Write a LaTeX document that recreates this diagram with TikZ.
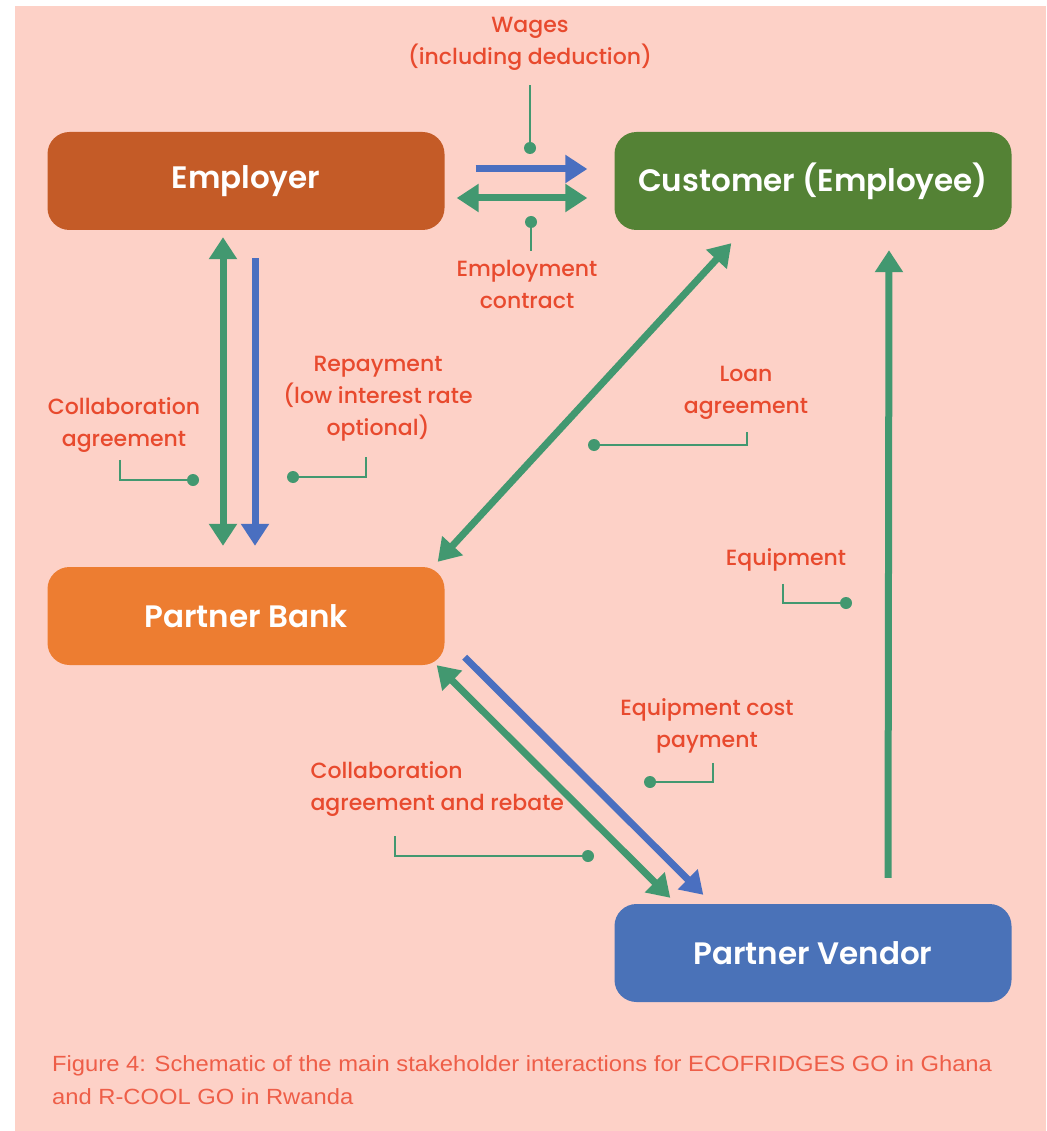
\documentclass[tikz,border=0pt]{standalone}
\usepackage{fontspec}
\usepackage{tikz}
\usetikzlibrary{arrows.meta}
\setmainfont{Poppins Medium}
\newfontfamily\boxfont{Poppins SemiBold}
\newfontfamily\capfont[FakeStretch=1.08]{Liberation Sans}
\definecolor{bgpink}{HTML}{FDD1C7}
\definecolor{employercol}{HTML}{C45B27}
\definecolor{customercol}{HTML}{548235}
\definecolor{bankcol}{HTML}{ED7D31}
\definecolor{vendorcol}{HTML}{4A72B8}
\definecolor{flowgreen}{HTML}{429870}
\definecolor{flowblue}{HTML}{4A6FC0}
\definecolor{textred}{HTML}{E84A2E}
\definecolor{captionred}{HTML}{EE5E48}
\tikzstyle{stakeholder} = [rectangle, rounded corners=22pt, minimum width=397pt, minimum height=98pt, text centered, text=white, font=\boxfont\fontsize{31}{36}\selectfont]
\tikzstyle{employerbox} = [stakeholder, fill=employercol]
\tikzstyle{customerbox} = [stakeholder, fill=customercol]
\tikzstyle{bankbox} = [stakeholder, fill=bankcol]
\tikzstyle{vendorbox} = [stakeholder, fill=vendorcol]
\tikzstyle{flowtext} = [text=textred, align=center, font=\fontsize{22}{32}\selectfont]
\tikzstyle{leader} = [draw=flowgreen, line width=2.5pt]
\tikzstyle{leaderdot} = [fill=flowgreen]
\tikzstyle{greenflow} = [draw=flowgreen, line width=7pt, ->, >={Triangle[length=22pt,width=27pt]}]
\tikzstyle{blueflow} = [draw=flowblue, line width=7pt, ->, >={Triangle[length=22pt,width=27pt]}]

\begin{document}
\begin{tikzpicture}[x=1pt, y=-1pt]
\useasboundingbox (0,0) rectangle (1046,1131);
\fill[bgpink] (15,6) rectangle (1046,1131);

\node (employer) [employerbox] at (246,181) {Employer};
\node (customer) [customerbox, right of=employer, node distance=567pt] {Customer (Employee)};
\node (bank) [bankbox, below of=employer, node distance=435pt] {Partner Bank};
\node (vendor) [vendorbox, below of=customer, node distance=772pt] {Partner Vendor};

\draw [blueflow] ([xshift=31pt,yshift=12pt]employer.east) -- ([xshift=-27pt,yshift=12pt]customer.west);
\draw [greenflow, <->] ([xshift=12pt,yshift=-17pt]employer.east) -- ([xshift=-27pt,yshift=-17pt]customer.west);
\draw [greenflow, <->] ([xshift=-23pt,yshift=-7pt]employer.south) -- ([xshift=-23pt,yshift=21pt]bank.north);
\draw [blueflow] ([xshift=9pt,yshift=-28pt]employer.south) -- ([xshift=9pt,yshift=21pt]bank.north);
\draw [greenflow, <->] ([shift={(117,13)}]customer.south west) -- ([shift={(-7,-5)}]bank.north east);
\draw [greenflow] ([xshift=75pt,yshift=26pt]vendor.north) -- ([xshift=76pt,yshift=-20pt]customer.south);
\draw [greenflow, <->] ([shift={(-8,0)}]bank.south east) -- ([shift={(56,-6)}]vendor.north west);
\draw [blueflow] ([shift={(20,-8)}]bank.south east) -- ([shift={(89,-9)}]vendor.north west);

\node (wages) [flowtext] at (530,44) {Wages\\(including deduction)};
\coordinate (wagesdot) at (530,148);
\draw [leader] (wagesdot) -- ([yshift=-11pt]wages.south);
\fill [leaderdot] (wagesdot) circle (6pt);

\node (employment) [flowtext] at (527,284) {Employment\\contract};
\coordinate (employmentdot) at (531,222);
\draw [leader] (employmentdot) -- ([xshift=4pt,yshift=5pt]employment.north);
\fill [leaderdot] (employmentdot) circle (6pt);

\node (collabemp) [flowtext] at (124,425) {Collaboration\\agreement};
\coordinate (collabempdot) at (193,480);
\draw [leader] ([xshift=-4pt,yshift=-4pt]collabemp.south) |- (collabempdot);
\fill [leaderdot] (collabempdot) circle (6pt);

\node (repay) [flowtext] at (378,399) {Repayment\\(low interest rate\\optional)};
\coordinate (repaydot) at (293,477);
\draw [leader] ([xshift=-12pt,yshift=-12pt]repay.south) |- (repaydot);
\fill [leaderdot] (repaydot) circle (6pt);

\node (loan) [flowtext] at (746,393) {Loan\\agreement};
\coordinate (loandot) at (594,445);
\draw [leader] ([xshift=1pt,yshift=-9pt]loan.south) |- (loandot);
\fill [leaderdot] (loandot) circle (6pt);

\node (equip) [flowtext] at (786,560) {Equipment};
\coordinate (equipdot) at (846,603);
\draw [leader] ([xshift=-3pt,yshift=-9pt]equip.south) |- (equipdot);
\fill [leaderdot] (equipdot) circle (6pt);

\node (eqcost) [flowtext] at (707,726) {Equipment cost\\payment};
\coordinate (eqcostdot) at (650,782);
\draw [leader] ([xshift=6pt,yshift=-6pt]eqcost.south) |- (eqcostdot);
\fill [leaderdot] (eqcostdot) circle (6pt);

\node (collabvend) [flowtext, anchor=west, align=left] at (307,789) {Collaboration\\agreement and rebate};
\coordinate (collabvenddot) at (588,856);
\draw [leader] ([xshift=88pt,yshift=-16pt]collabvend.south west) |- (collabvenddot);
\fill [leaderdot] (collabvenddot) circle (6pt);

\node (caption) [anchor=north west, align=left, inner sep=0pt, text=captionred, font=\capfont\fontsize{22}{33}\selectfont] at (52,1055) {Figure 4: Schematic of the main stakeholder interactions for ECOFRIDGES GO in Ghana\\and R-COOL GO in Rwanda};
\end{tikzpicture}
\end{document}
